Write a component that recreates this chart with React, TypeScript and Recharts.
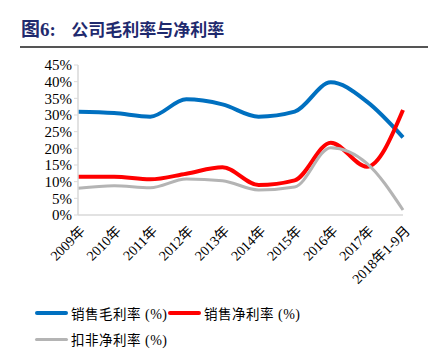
import { LineChart, Line, XAxis, YAxis } from "recharts";

const years = ["2009年", "2010年", "2011年", "2012年", "2013年", "2014年", "2015年", "2016年", "2017年", "2018年1-9月"];
const grossMargin = [31.0, 30.6, 29.5, 34.7, 33.2, 29.5, 31.0, 39.8, 34.0, 23.3];
const netMargin = [11.5, 11.5, 10.7, 12.4, 14.3, 9.0, 10.4, 21.7, 14.5, 31.5];
const deductedNetMargin = [8.0, 8.8, 8.2, 10.8, 10.3, 7.5, 8.4, 20.2, 15.5, 1.5];
const yTicks = [0, 5, 10, 15, 20, 25, 30, 35, 40, 45];

const chartData = years.map((year, i) => ({
  year,
  gross: grossMargin[i],
  net: netMargin[i],
  deducted: deductedNetMargin[i],
}));

const serif = '"Liberation Serif", "Times New Roman", "Noto Sans CJK SC", serif';
const cjk = '"Noto Sans CJK SC", sans-serif';

function XTick(props: any) {
  const { x, y, payload } = props;
  return (
    <g transform={`translate(${x + 5},${y + 6})`}>
      <text transform="rotate(-45)" textAnchor="end" dy={4} fontSize={14} fill="#000" fontFamily={serif}>
        {payload.value}
      </text>
    </g>
  );
}

function LegendItem({ color, label, width }: { color: string; label: string; width: number }) {
  return (
    <div style={{ display: "flex", alignItems: "center", height: 20 }}>
      <div style={{ width: 33, height: width, background: color, borderRadius: 2, marginRight: 3 }} />
      <span style={{ fontFamily: cjk, fontSize: 13.5, color: "#000", letterSpacing: 0.5 }}>
        {label}
        <span style={{ fontFamily: serif, fontSize: 14 }}> (%)</span>
      </span>
    </div>
  );
}

export default function App() {
  return (
    <div style={{ position: "absolute", left: 0, top: 0, width: 438, height: 356, background: "#fff" }}>
      <div
        style={{
          position: "absolute",
          left: 21,
          top: 14,
          fontFamily: cjk,
          fontWeight: 700,
          fontSize: 17,
          color: "#1F2A6E",
          whiteSpace: "pre",
        }}
      >
        <span style={{ fontFamily: serif, fontSize: 19 }}>图6:</span>
        {"    公司毛利率与净利率"}
      </div>
      <div style={{ position: "absolute", left: 20, top: 46, width: 408, height: 1.5, background: "#555" }} />

      <div style={{ position: "absolute", left: 0, top: 0 }}>
        <LineChart width={438} height={300} data={chartData} margin={{ top: 65, right: 35, left: 0, bottom: 15 }}>
          <XAxis
            dataKey="year"
            interval={0}
            height={70}
            tickLine={false}
            axisLine={{ stroke: "#d9d9d9", strokeWidth: 1.5 }}
            tick={<XTick />}
          />
          <YAxis
            width={78}
            domain={[0, 45]}
            ticks={yTicks}
            interval={0}
            tickFormatter={(v: number) => `${v}%`}
            axisLine={{ stroke: "#d9d9d9", strokeWidth: 1.5 }}
            tickLine={{ stroke: "#d9d9d9" }}
            tickSize={4}
            tick={{ fontSize: 15, fill: "#000", fontFamily: serif }}
          />
          <Line type="monotone" dataKey="gross" stroke="#0070C0" strokeWidth={4} dot={false} isAnimationActive={false} />
          <Line type="monotone" dataKey="net" stroke="#FF0000" strokeWidth={4} dot={false} isAnimationActive={false} />
          <Line type="monotone" dataKey="deducted" stroke="#B4B4B4" strokeWidth={3} dot={false} isAnimationActive={false} />
        </LineChart>
      </div>

      <div style={{ position: "absolute", left: 35, top: 303 }}>
        <LegendItem color="#0070C0" label="销售毛利率" width={4} />
      </div>
      <div style={{ position: "absolute", left: 168, top: 303 }}>
        <LegendItem color="#FF0000" label="销售净利率" width={4} />
      </div>
      <div style={{ position: "absolute", left: 35, top: 329 }}>
        <LegendItem color="#B4B4B4" label="扣非净利率" width={3} />
      </div>
    </div>
  );
}
